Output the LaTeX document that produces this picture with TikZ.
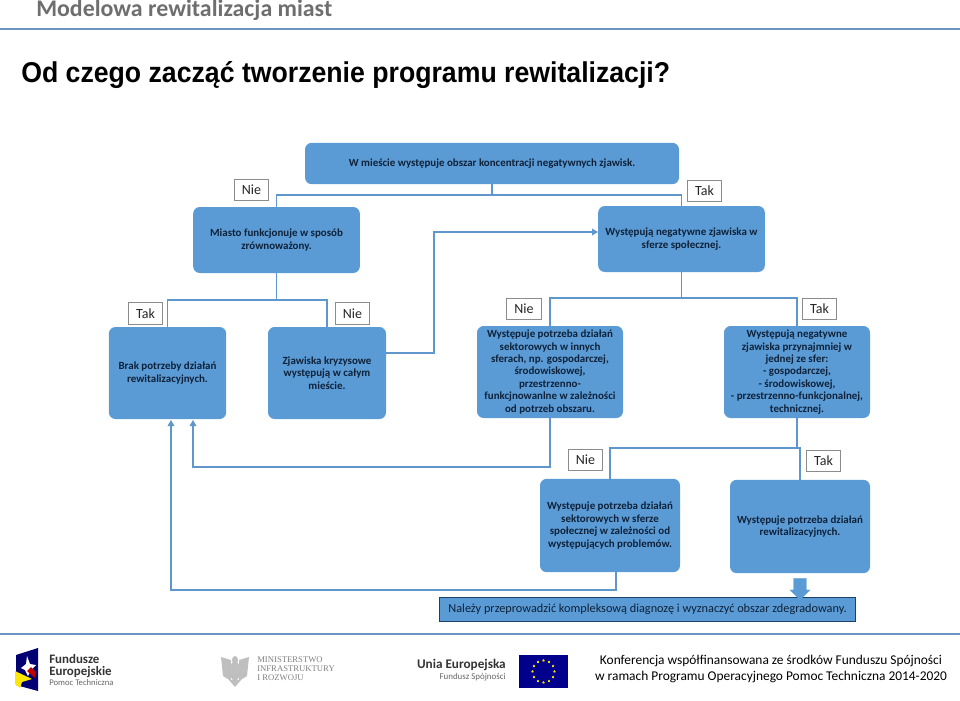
\documentclass[tikz,border=0pt]{standalone}
\usepackage{fontspec}
\setmainfont{Carlito}
\newfontfamily\titlefont{Liberation Sans}
\newfontfamily\ministryfont{Liberation Serif}
\usetikzlibrary{arrows.meta,shapes.arrows,shapes.geometric}
\definecolor{boxblue}{HTML}{5B9BD5}
\definecolor{linkblue}{HTML}{5F96CB}
\definecolor{boxtext}{HTML}{0E2138}
\definecolor{rulegray}{HTML}{6C93C2}
\definecolor{labelgray}{HTML}{8C8C8C}
\definecolor{headgray}{HTML}{6E6E6E}
\definecolor{deepblue}{HTML}{1D3F6E}
\tikzset{
  stepbox/.style={fill=boxblue,rounded corners=5pt,align=center,inner sep=0pt,text=boxtext,font=\fontsize{8.2}{9.3}\selectfont\bfseries},
  answer/.style={draw=labelgray,fill=white,line width=0.8pt,minimum width=26pt,minimum height=16pt,inner sep=0pt,text=black!85,font=\fontsize{10.5}{12}\selectfont},
  link/.style={draw=linkblue,line width=0.9pt},
  linkin/.style={link,-{Stealth[inset=0pt,length=4.5pt,width=5pt]}},
}
\begin{document}
\begin{tikzpicture}[x=0.75pt,y=-0.75pt]
  \useasboundingbox (0,0) rectangle (960,700);
  % Header and footer
  \node[anchor=base west,inner sep=0pt,text=headgray,font=\fontsize{17.9}{20}\selectfont\bfseries] (headtitle) at (36,16) {Modelowa rewitalizacja miast};
  \draw[rulegray,line width=1pt] (0,29) -- (960,29);
  \node[anchor=base west,inner sep=0pt,font=\titlefont\fontsize{21.5}{25}\selectfont\bfseries] (pagetitle) at (21,82) {\scalebox{0.93}[1]{Od czego zacząć tworzenie programu rewitalizacji?}};
  \draw[rulegray,line width=1pt] (0,634) -- (960,634);
  \node[align=center,inner sep=0pt,font=\fontsize{10.05}{12}\selectfont] (fundnote) at (771,669) {Konferencja współfinansowana ze środków Funduszu Spójności\\w ramach Programu Operacyjnego Pomoc Techniczna 2014-2020};

  % Boxes
  \node[stepbox,minimum width=280.5pt,minimum height=31pt] (top) at (492,163.5) {W mieście występuje obszar koncentracji negatywnych zjawisk.};
  \node[stepbox,minimum width=125pt,minimum height=49.5pt] (miasto) at (276.5,240) {Miasto funkcjonuje w sposób\\zrównoważony.};
  \node[stepbox,minimum width=125pt,minimum height=49.5pt] (spoleczna) at (681.5,239) {Występują negatywne zjawiska w\\sferze społecznej.};
  \node[stepbox,minimum width=88pt,minimum height=69pt] (brak) at (167.5,373) {Brak potrzeby działań\\rewitalizacyjnych.};
  \node[stepbox,minimum width=88.5pt,minimum height=69pt] (kryzys) at (327,373) {Zjawiska kryzysowe\\występują w całym\\mieście.};
  \node[stepbox,minimum width=109.5pt,minimum height=69pt] (sektor) at (550,372) {Występuje potrzeba działań\\sektorowych w innych\\sferach, np. gospodarczej,\\środowiskowej,\\przestrzenno-\\funkcjnowanlne w zależności\\od potrzeb obszaru.};
  \node[stepbox,minimum width=109.5pt,minimum height=69pt] (jednasfera) at (797,372) {Występują negatywne\\zjawiska przynajmniej w\\jednej ze sfer:\\- gospodarczej,\\- środowiskowej,\\- przestrzenno-funkcjonalnej,\\technicznej.};
  \node[stepbox,minimum width=105pt,minimum height=70pt] (problemy) at (610,525.5) {Występuje potrzeba działań\\sektorowych w sferze\\społecznej w zależności od\\występujących problemów.};
  \node[stepbox,minimum width=105pt,minimum height=70pt] (rewit) at (800,526.5) {Występuje potrzeba działań\\rewitalizacyjnych.};
  \node[draw=deepblue,fill=boxblue,line width=0.7pt,minimum width=312.5pt,minimum height=18pt,inner sep=0pt,text=boxtext,font=\fontsize{9.2}{11}\selectfont] (diagnoza) at (647.5,609) {Należy przeprowadzić kompleksową diagnozę i wyznaczyć obszar zdegradowany.};

  % Answers
  \node[answer] (nie1) at (251.5,190) {Nie};
  \node[answer] (tak1) at (704.5,191) {Tak};
  \node[answer] (tak2) at (145.5,313.5) {Tak};
  \node[answer] (nie2) at (352.5,313.5) {Nie};
  \node[answer] (nie3) at (524,309) {Nie};
  \node[answer] (tak3) at (819.5,309) {Tak};
  \node[answer] (nie4) at (585.5,460) {Nie};
  \node[answer] (tak4) at (823.5,461) {Tak};

  % Forks
  \coordinate (fork1) at (492,195);
  \draw[link] (top.south) -- (fork1);
  \draw[link] (miasto.north) |- (fork1) -| (spoleczna.north);
  \coordinate (fork2) at (276.5,300);
  \draw[link] (miasto.south) -- (fork2);
  \draw[link] (brak.north) |- (fork2) -| (kryzys.north);
  \coordinate (fork3) at (681.5,298);
  \draw[link] (spoleczna.south) -- (fork3);
  \draw[link] (sektor.north) |- (fork3) -| (jednasfera.north);
  \coordinate (fork4) at (797,448);
  \draw[link] (jednasfera.south) -- (fork4);
  \draw[link] (problemy.north) |- (fork4) -| (rewit.north);

  % Return arrows
  \coordinate (kryzysout) at (386,353);
  \coordinate (kryzysbend) at (434,232);
  \coordinate (spolecznain) at (598,232);
  \draw[linkin] (kryzysout) -| (kryzysbend) -- (spolecznain);
  \coordinate (brakin1) at (193,420);
  \coordinate (brakin2) at (171,420);
  \coordinate (sektorbend) at (193,467);
  \draw[linkin] (sektor.south) |- (sektorbend) -- (brakin1);
  \coordinate (problemyout) at (616,572);
  \coordinate (problemybend) at (171,590);
  \draw[linkin] (problemyout) |- (problemybend) -- (brakin2);

  % Block arrow
  \node[single arrow,fill=boxblue,draw=boxblue,line width=0.3pt,inner sep=4.7pt,minimum height=16pt,single arrow head extend=2.6pt,shape border rotate=270] (bigarrow) at (800,586) {};

  % Logo: Fundusze Europejskie
  \fill[blue!45!black] (16,655) -- (38,648) -- (38,691) -- (16,685) -- cycle;
  \fill[white] (27,656) -- (30,664) -- (36,665) -- (31,670) -- (28,676) -- (25,670) -- (21,668) -- (26,664) -- cycle;
  \fill[yellow!90!orange] (15,671) -- (32,679) -- (22,682) -- (20,688) -- (15,684) -- cycle;
  \fill[red!75!black] (27,671) -- (31,667) -- (36,672) -- (35,678) -- cycle;
  \node[anchor=west,inner sep=0pt,align=left,text=black!80,font=\fontsize{9.7}{8.8}\selectfont\bfseries] (fe) at (49,666) {Fundusze\\Europejskie};
  \node[anchor=west,inner sep=0pt,text=black!60,font=\fontsize{6.5}{7}\selectfont] (fepomoc) at (49,683) {Pomoc Techniczna};

  % Logo: Ministerstwo
  \fill[black!25] (235,660) ellipse (3 and 4);
  \fill[black!25] (235,671) ellipse (5 and 10);
  \fill[black!25] (231,660) -- (221,657) -- (223,676) -- (231,681) -- cycle;
  \fill[black!25] (239,660) -- (249,657) -- (247,676) -- (239,681) -- cycle;
  \fill[black!25] (229,680) -- (235,687) -- (241,680) -- cycle;
  \node[anchor=west,inner sep=0pt,align=left,text=black!50,font=\ministryfont\fontsize{6.5}{6.8}\selectfont] (mi) at (257,669) {MINISTERSTWO\\INFRASTRUKTURY\\I ROZWOJU};

  % Logo: Unia Europejska
  \node[anchor=east,inner sep=0pt,text=black!80,font=\fontsize{9.9}{11}\selectfont\bfseries] (ue) at (506,665) {Unia Europejska};
  \node[anchor=east,inner sep=0pt,text=black!60,font=\fontsize{6.7}{8}\selectfont] (fs) at (506,677) {Fundusz Spójności};
  \fill[blue!55!black] (519,655) rectangle (568,688);
  \foreach \a in {0,30,...,330}
    \node[star,star points=5,fill=yellow!80!orange,inner sep=0pt,minimum size=2pt] (eustar\a) at ({543.5+11*cos(\a)},{671.5+11*sin(\a)}) {};
\end{tikzpicture}
\end{document}
